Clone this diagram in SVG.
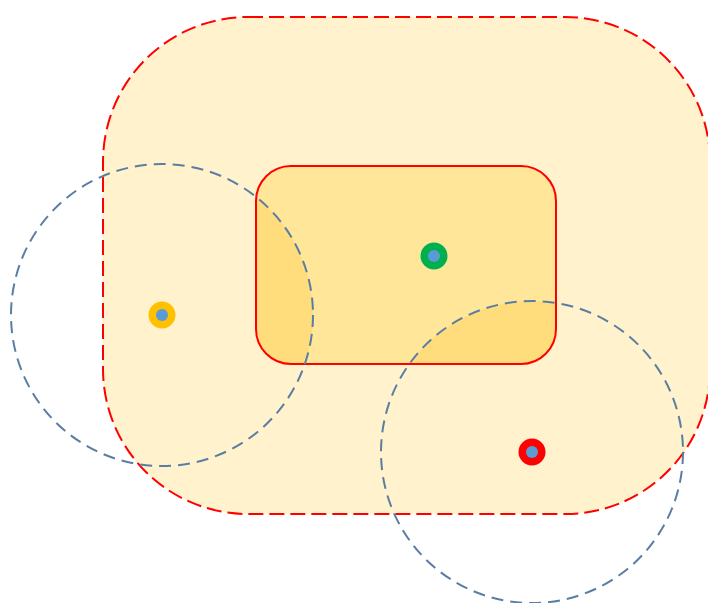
<svg xmlns="http://www.w3.org/2000/svg" width="708" height="603" viewBox="0 0 708 603">
<style>
.range{fill:none;stroke:#5A7EA3;stroke-width:2;stroke-dasharray:12 7}
.dotc{fill:#5B9BD5}
</style>
<defs>
<clipPath id="innerClip"><rect x="256" y="166" width="300" height="198" rx="35"/></clipPath>
</defs>
<rect width="708" height="603" fill="#FFFFFF"/>
<g id="outer-area">
<rect x="103" y="17" width="607" height="497" rx="145" fill="#FFF2CC" stroke="#FF0000" stroke-width="2" stroke-dasharray="15 6"/>
</g>
<g id="inner-area">
<rect x="256" y="166" width="300" height="198" rx="35" fill="#FFE699"/>
<g clip-path="url(#innerClip)" fill="#FFDD7C">
<circle cx="162" cy="315" r="151"/>
<circle cx="532" cy="452" r="151"/>
</g>
<rect x="256" y="166" width="300" height="198" rx="35" fill="none" stroke="#FF0000" stroke-width="2"/>
</g>
<g id="connectors">
<circle class="range" cx="162" cy="315" r="151"/>
<circle class="range" cx="532" cy="452" r="151"/>
</g>
<g id="node-yellow"><circle cx="162" cy="315" r="13.5" fill="#FFC000"/><circle class="dotc" cx="162" cy="315" r="6"/></g>
<g id="node-green"><circle cx="434" cy="256" r="13.5" fill="#00B050"/><circle class="dotc" cx="434" cy="256" r="6"/></g>
<g id="node-red"><circle cx="532" cy="452" r="13.5" fill="#FF0000"/><circle class="dotc" cx="532" cy="452" r="6"/></g>
</svg>
